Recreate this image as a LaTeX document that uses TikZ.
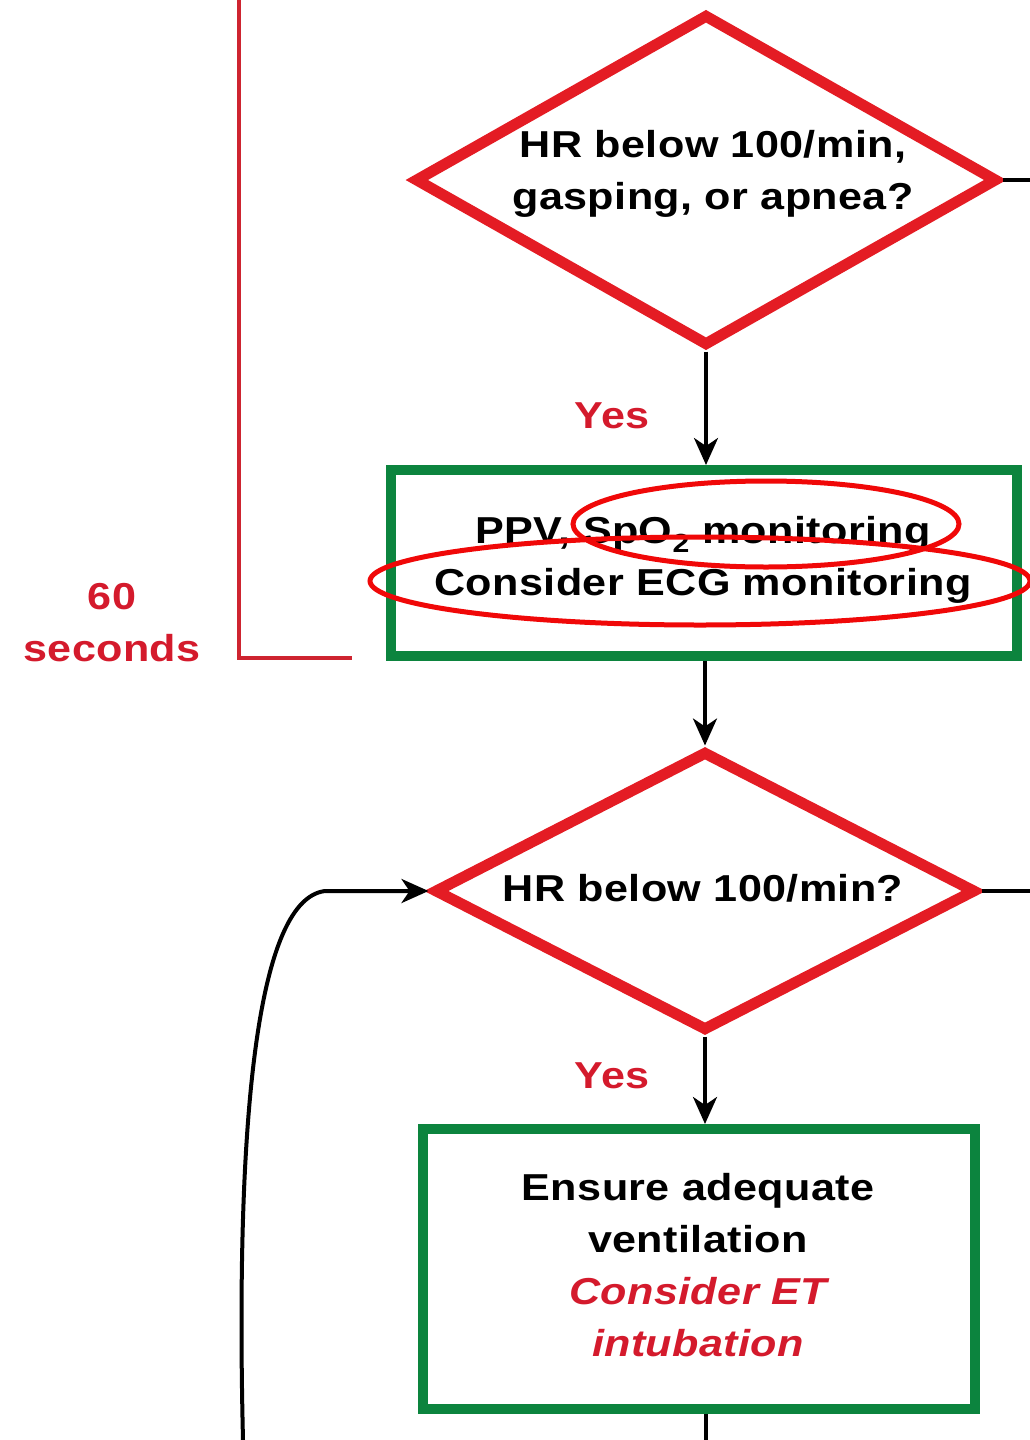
\documentclass[tikz,border=0pt]{standalone}
\usepackage{fontspec}
\setmainfont{Liberation Sans}[FakeStretch=1.15, LetterSpace=1]
\usetikzlibrary{arrows.meta,shapes.geometric}

\definecolor{decisionred}{RGB}{228,28,36}
\definecolor{labelred}{RGB}{212,26,44}
\definecolor{actiongreen}{RGB}{12,132,62}
\definecolor{markred}{RGB}{240,8,8}
\definecolor{timered}{RGB}{206,36,48}

\tikzset{
  decision/.style={diamond, draw=decisionred, line width=11pt, inner sep=0pt, fill=white},
  action/.style={rectangle, draw=actiongreen, line width=10pt, inner sep=0pt, fill=white},
  bodytext/.style={font=\fontsize{37.5}{52}\selectfont\bfseries, align=center, inner sep=0pt, anchor=base},
  yeslabel/.style={font=\fontsize{37.5}{52}\selectfont\bfseries, text=labelred, inner sep=0pt, anchor=base},
  timelabel/.style={font=\fontsize{37.5}{52}\selectfont\bfseries, text=labelred, align=center, inner sep=0pt, anchor=base},
  flow/.style={draw=black, line width=3.5pt, -{Stealth[length=27pt,width=24pt,inset=8pt]}},
  plainline/.style={draw=black, line width=3.5pt},
  timeline/.style={draw=timered, line width=3.5pt},
  markring/.style={ellipse, draw=markred, line width=5pt, inner sep=0pt}
}

\begin{document}
\begin{tikzpicture}[x=1pt,y=-1pt]
  \useasboundingbox (0,0) rectangle (1030,1440);

  % timing bracket on the left
  \coordinate (brTop) at (239,0);
  \coordinate (brEnd) at (352,658);
  \draw[timeline] (brTop) |- (brEnd);
  \node[timelabel] (secs) at (112,661) {60\\seconds};

  % first decision
  \node[decision, minimum width=583pt, minimum height=332pt] (q1) at (706,180) {};
  \node[bodytext] (q1txt) at (713,209) {HR below 100/min,\\gasping, or apnea?};
  \coordinate (q1out) at (1030,180);
  \draw[plainline] (q1.east) -- (q1out);

  % positive pressure ventilation box
  \node[action, minimum width=626pt, minimum height=186pt] (b1) at (704,563) {};
  \node[bodytext] (b1txt) at (703,595) {PPV, SpO\textsubscript{2} monitoring\\Consider ECG monitoring};

  \draw[flow] (q1.south) -- (q1.south |- b1.north);
  \node[yeslabel] (yes1) at (612,428) {Yes};

  % second decision
  \node[decision, minimum width=542pt, minimum height=280pt] (q2) at (705,891) {};
  \node[bodytext] (q2txt) at (703,901) {HR below 100/min?};
  \coordinate (q2out) at (1030,891);
  \draw[plainline] (q2.east) -- (q2out);

  \draw[flow] (q2.north |- b1.south) -- (q2.north);

  % ventilation box
  \node[action, minimum width=552pt, minimum height=280pt] (b2) at (699,1269) {};
  \node[bodytext] (b2txt) at (698,1356) {Ensure adequate\\ventilation\\{\color{labelred}\itshape Consider ET}\\{\color{labelred}\itshape intubation}};

  \draw[flow] (q2.south) -- (q2.south |- b2.north);
  \node[yeslabel] (yes2) at (612,1088) {Yes};

  \coordinate (b2exit) at (706,1440);
  \draw[plainline] (b2exit |- b2.south) -- (b2exit);

  % loop back into the second decision
  \coordinate (loopIn) at (243,1440);
  \draw[flow, line width=4pt] (loopIn) .. controls (236,1150) and (252,900) .. (325,891) -- (q2.west);

  % highlight rings
  \node[markring, minimum width=386pt, minimum height=86pt] (ringA) at (766,524) {};
  \node[markring, minimum width=660pt, minimum height=88pt] (ringB) at (700,581) {};
\end{tikzpicture}
\end{document}
